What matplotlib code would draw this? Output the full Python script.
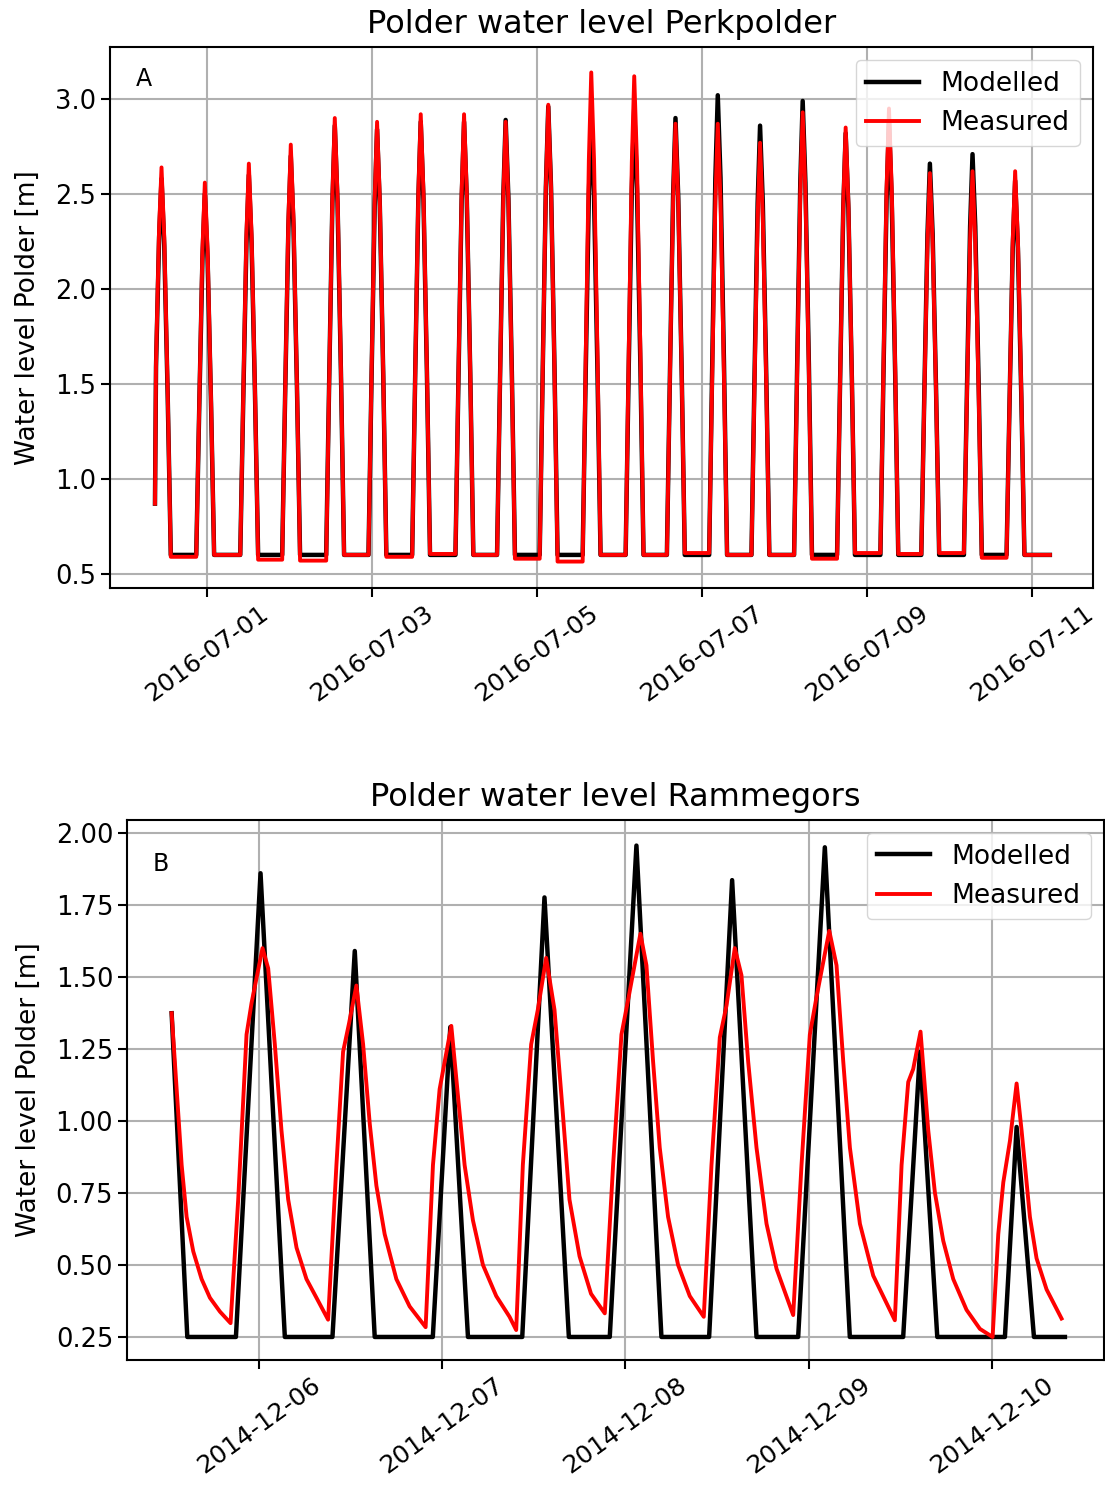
import matplotlib
matplotlib.use('Agg')
import matplotlib.pyplot as plt
import matplotlib.dates as mdates
import pandas as pd

# Perkpolder (2016): hours after 2016-07-01 00:00 of each high water
start_a = pd.Timestamp('2016-07-01')
first_hour_a, first_level_a = -15.1, 0.87
last_hour_a = 245.2
peak_hours_a = [-13.2, -0.6, 12.2, 24.4, 37.2, 49.5, 62.2, 74.8, 86.9, 99.3, 111.8,
                124.3, 136.3, 148.6, 160.9, 173.3, 185.8, 198.4, 210.3, 222.7, 235.1]
model_peak_a = [2.58, 2.50, 2.60, 2.70, 2.86, 2.84, 2.88, 2.88, 2.89, 2.96, 2.91,
                2.95, 2.90, 3.02, 2.86, 2.99, 2.82, 2.88, 2.66, 2.71, 2.57]
meas_peak_a = [2.64, 2.56, 2.66, 2.76, 2.90, 2.88, 2.92, 2.92, 2.88, 2.97, 3.14,
               3.12, 2.87, 2.87, 2.77, 2.93, 2.85, 2.95, 2.61, 2.62, 2.62]
# low water level after each high water
model_base_a = 0.60
meas_base_a = [0.59, 0.60, 0.575, 0.57, 0.60, 0.59, 0.605, 0.60, 0.58, 0.565, 0.60,
               0.60, 0.61, 0.60, 0.60, 0.58, 0.61, 0.605, 0.61, 0.585, 0.60]
# shape of one high water: hours from the peak and share of the tidal range
shape_hours_a = [-2.5, -1.6, -0.7, 0.0, 0.8, 1.8, 2.7]
shape_share_a = [0.0, 0.42, 0.82, 1.0, 0.82, 0.42, 0.0]
ticks_a = ['2016-07-01', '2016-07-03', '2016-07-05', '2016-07-07', '2016-07-09', '2016-07-11']

# Rammegors (2014): hours after 2014-12-06 00:00
start_b = pd.Timestamp('2014-12-06')
model_b_hours = [-11.37, -9.32, -2.96, 0.26, 3.44, 9.67, 12.59, 15.2, 22.8, 25.09, 27.4,
                 34.5, 37.41, 40.6, 45.95, 49.44, 52.71, 58.95, 61.96, 65.15, 70.6,
                 74.09, 77.36, 84.34, 86.53, 88.8, 97.65, 99.18, 101.45, 105.5]
model_b_level = [1.374, 0.25, 0.25, 1.86, 0.25, 0.25, 1.59, 0.25, 0.25, 1.326, 0.25,
                 0.25, 1.776, 0.25, 0.25, 1.956, 0.25, 0.25, 1.836, 0.25, 0.25,
                 1.95, 0.25, 0.25, 1.24, 0.25, 0.25, 0.979, 0.25, 0.25]
meas_b_hours = [-11.37, -10.06, -9.41, -8.54, -7.45, -6.36, -5.05, -3.66,
                -2.66, -1.57, -0.91, 0.52, 1.26, 2.13, 3.0, 3.88, 4.97, 6.27, 7.58, 9.1,
                10.19, 11.06, 11.85, 12.8, 13.68, 14.55, 15.42, 16.5, 18.03, 19.77, 21.86,
                22.82, 23.69, 25.22, 26.09, 26.96, 28.05, 29.36, 31.1, 32.84, 33.71,
                34.58, 35.67, 36.54, 37.63, 38.72, 39.81, 40.68, 42.0, 43.5, 45.3,
                46.39, 47.48, 48.35, 49.96, 50.75, 51.62, 52.49, 53.58, 54.89, 56.42, 58.25,
                59.26, 60.35, 61.22, 62.31, 63.18, 64.06, 65.15, 66.46, 67.77, 69.95,
                71.04, 72.13, 73.0, 74.67, 75.62, 76.5, 77.37, 78.68, 80.42, 83.25,
                84.13, 85.0, 85.65, 86.61, 87.62, 88.49, 89.58, 90.89, 92.63, 94.38, 96.04,
                96.78, 97.44, 98.31, 99.18, 99.83, 100.92, 101.79, 103.1, 105.06]
meas_b_level = [1.374, 0.847, 0.667, 0.547, 0.451, 0.386, 0.338, 0.298,
                0.727, 1.30, 1.41, 1.60, 1.53, 1.266, 0.967, 0.727, 0.56, 0.451, 0.386, 0.31,
                0.847, 1.24, 1.34, 1.47, 1.266, 0.99, 0.775, 0.607, 0.451, 0.356, 0.284,
                0.847, 1.11, 1.33, 1.087, 0.847, 0.655, 0.50, 0.392, 0.32, 0.274,
                0.847, 1.266, 1.386, 1.566, 1.386, 1.027, 0.727, 0.53, 0.40, 0.332,
                0.847, 1.30, 1.42, 1.65, 1.54, 1.206, 0.907, 0.667, 0.50, 0.392, 0.32,
                0.847, 1.29, 1.40, 1.60, 1.506, 1.206, 0.907, 0.643, 0.487, 0.326,
                0.847, 1.30, 1.43, 1.66, 1.54, 1.206, 0.907, 0.643, 0.463, 0.308,
                0.847, 1.135, 1.18, 1.31, 0.967, 0.751, 0.584, 0.451, 0.344, 0.278, 0.25,
                0.607, 0.787, 0.931, 1.13, 0.967, 0.667, 0.523, 0.415, 0.314]
ticks_b = ['2014-12-06', '2014-12-07', '2014-12-08', '2014-12-09', '2014-12-10']


def tide_series(peaks, levels, bases):
    # high water humps between stretches of constant low water
    hours = [first_hour_a]
    values = [first_level_a]
    for i, (p, v) in enumerate(zip(peaks, levels)):
        low_before = bases[i - 1] if i > 0 else first_level_a
        for dh, share in zip(shape_hours_a, shape_share_a):
            if i == 0 and dh < -1.8:
                continue
            low = low_before if dh < 0 else bases[i]
            hours.append(p + dh)
            values.append(low + share * (v - low))
    hours.append(last_hour_a)
    values.append(bases[-1])
    return hours, values


def to_time(start, hours):
    return start + pd.to_timedelta(hours, unit='h')


plt.rcParams['font.family'] = 'DejaVu Sans'
fig = plt.figure(figsize=(11.05, 14.87), dpi=100)

# Panel A
ax1 = fig.add_axes([0.0995, 0.6046, 0.8895, 0.3638])
mh, mv = tide_series(peak_hours_a, model_peak_a, [model_base_a] * len(peak_hours_a))
rh, rv = tide_series(peak_hours_a, meas_peak_a, meas_base_a)
ax1.plot(to_time(start_a, mh), mv, color='black', lw=3.2, label='Modelled')
ax1.plot(to_time(start_a, rh), rv, color='red', lw=2.8, label='Measured')
ax1.set_xlim(to_time(start_a, [-28.2, 257.7]))
ax1.set_ylim(0.426, 3.274)
ax1.set_xticks(pd.to_datetime(ticks_a))
ax1.set_title('Polder water level Perkpolder', fontsize=23, pad=10)
ax1.set_ylabel('Water level Polder [m]', fontsize=19, labelpad=10)
ax1.text(0.026, 0.94, 'A', transform=ax1.transAxes, fontsize=17, va='center')

# Panel B
ax2 = fig.add_axes([0.115, 0.0854, 0.884, 0.3632])
ax2.plot(to_time(start_b, model_b_hours), model_b_level, color='black', lw=3.2, label='Modelled')
ax2.plot(to_time(start_b, meas_b_hours), meas_b_level, color='red', lw=2.8, label='Measured')
ax2.set_xlim(to_time(start_b, [-17.2, 110.6]))
ax2.set_ylim(0.17, 2.045)
ax2.set_xticks(pd.to_datetime(ticks_b))
ax2.set_yticks([0.25, 0.5, 0.75, 1.0, 1.25, 1.5, 1.75, 2.0])
ax2.yaxis.set_major_formatter(matplotlib.ticker.FormatStrFormatter('%.2f'))
ax2.set_title('Polder water level Rammegors', fontsize=23, pad=10)
ax2.set_ylabel('Water level Polder [m]', fontsize=19, labelpad=10)
ax2.text(0.026, 0.918, 'B', transform=ax2.transAxes, fontsize=17, va='center')

for ax in (ax1, ax2):
    ax.xaxis.set_major_formatter(mdates.DateFormatter('%Y-%m-%d'))
    ax.grid(True, color='#b0b0b0', lw=1.5)
    ax.tick_params(labelsize=18.5, length=6.5, width=1.5)
    ax.tick_params(axis='x', labelsize=18, pad=3)
    for lbl in ax.get_xticklabels():
        lbl.set_rotation(36)
        lbl.set_ha('center')
    for s in ax.spines.values():
        s.set_linewidth(1.5)
    ax.legend(loc='upper right', fontsize=19)

fig.savefig('out.png', dpi=100)
